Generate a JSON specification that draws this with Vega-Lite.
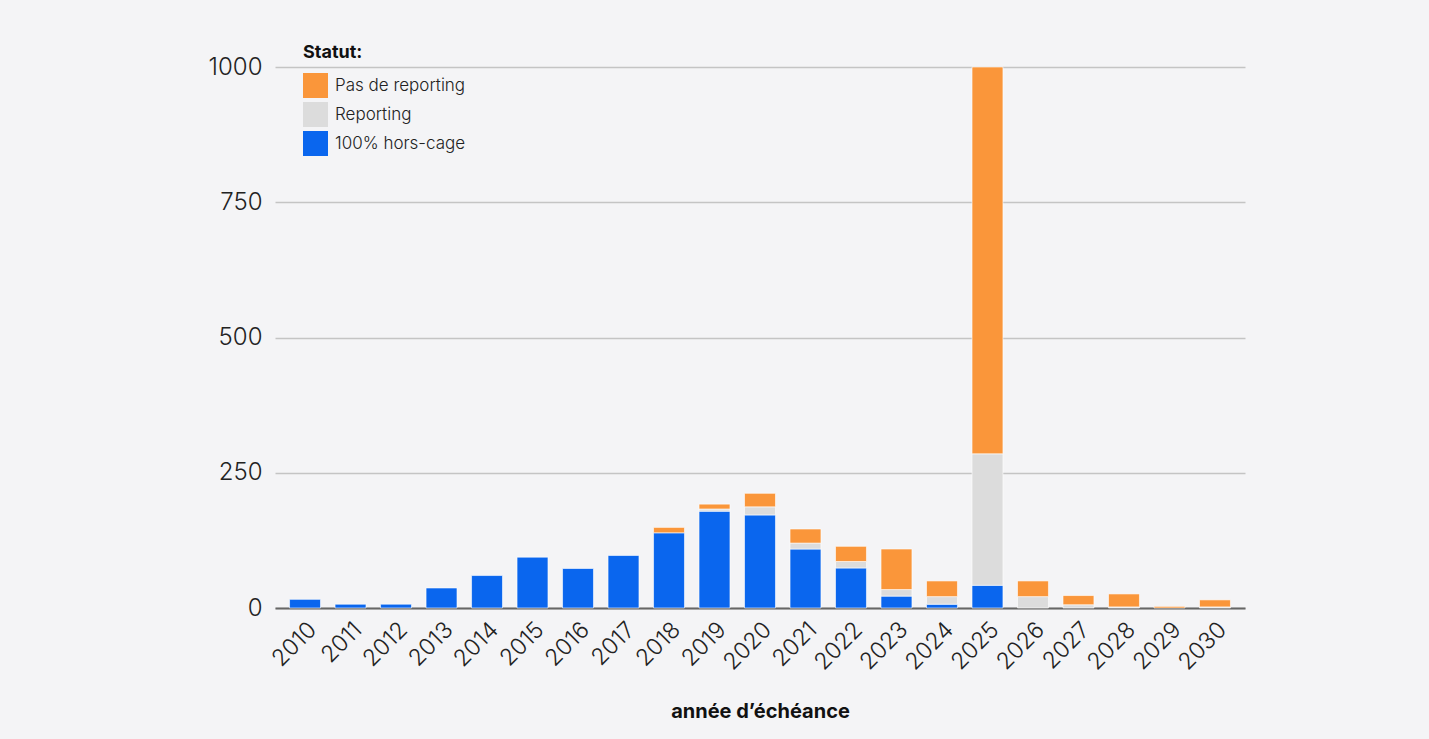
{
  "$schema": "https://vega.github.io/schema/vega-lite/v6.json",
  "autosize": {"type": "none"},
  "width": 970,
  "height": 541,
  "padding": {"left": 275, "top": 67, "right": 184, "bottom": 131},
  "background": "#f4f4f6",
  "config": {
    "font": "Inter",
    "view": {"stroke": null}
  },
  "data": {
    "values": [
      {"annee": "2010", "statut": "100% hors-cage", "n": 16},
      {"annee": "2011", "statut": "100% hors-cage", "n": 7},
      {"annee": "2012", "statut": "100% hors-cage", "n": 7},
      {"annee": "2013", "statut": "100% hors-cage", "n": 37},
      {"annee": "2014", "statut": "100% hors-cage", "n": 60},
      {"annee": "2015", "statut": "100% hors-cage", "n": 94},
      {"annee": "2016", "statut": "100% hors-cage", "n": 73},
      {"annee": "2017", "statut": "100% hors-cage", "n": 97},
      {"annee": "2018", "statut": "100% hors-cage", "n": 139},
      {"annee": "2018", "statut": "Pas de reporting", "n": 10},
      {"annee": "2019", "statut": "100% hors-cage", "n": 179},
      {"annee": "2019", "statut": "Reporting", "n": 4},
      {"annee": "2019", "statut": "Pas de reporting", "n": 9},
      {"annee": "2020", "statut": "100% hors-cage", "n": 172},
      {"annee": "2020", "statut": "Reporting", "n": 15},
      {"annee": "2020", "statut": "Pas de reporting", "n": 25},
      {"annee": "2021", "statut": "100% hors-cage", "n": 109},
      {"annee": "2021", "statut": "Reporting", "n": 11},
      {"annee": "2021", "statut": "Pas de reporting", "n": 26},
      {"annee": "2022", "statut": "100% hors-cage", "n": 74},
      {"annee": "2022", "statut": "Reporting", "n": 12},
      {"annee": "2022", "statut": "Pas de reporting", "n": 28},
      {"annee": "2023", "statut": "100% hors-cage", "n": 22},
      {"annee": "2023", "statut": "Reporting", "n": 12},
      {"annee": "2023", "statut": "Pas de reporting", "n": 75},
      {"annee": "2024", "statut": "100% hors-cage", "n": 7},
      {"annee": "2024", "statut": "Reporting", "n": 14},
      {"annee": "2024", "statut": "Pas de reporting", "n": 29},
      {"annee": "2025", "statut": "100% hors-cage", "n": 42},
      {"annee": "2025", "statut": "Reporting", "n": 243},
      {"annee": "2025", "statut": "Pas de reporting", "n": 715},
      {"annee": "2026", "statut": "Reporting", "n": 21},
      {"annee": "2026", "statut": "Pas de reporting", "n": 29},
      {"annee": "2027", "statut": "Reporting", "n": 6},
      {"annee": "2027", "statut": "Pas de reporting", "n": 17},
      {"annee": "2028", "statut": "Reporting", "n": 2},
      {"annee": "2028", "statut": "Pas de reporting", "n": 24},
      {"annee": "2029", "statut": "Pas de reporting", "n": 3},
      {"annee": "2030", "statut": "Reporting", "n": 2},
      {"annee": "2030", "statut": "Pas de reporting", "n": 13}
    ]
  },
  "transform": [
    {"calculate": "indexof(['100% hors-cage', 'Reporting', 'Pas de reporting'], datum.statut)", "as": "rang"}
  ],
  "mark": {"type": "bar", "stroke": "#ffffff", "strokeOpacity": 0.6, "strokeWidth": 1},
  "encoding": {
    "x": {
      "field": "annee",
      "type": "ordinal",
      "title": "année d’échéance",
      "scale": {"paddingInner": 0.32, "paddingOuter": 0.32},
      "axis": {
        "labelAngle": -45,
        "labelFontSize": 23,
        "labelFontWeight": 300,
        "labelColor": "#222222",
        "labelPadding": 10,
        "ticks": false,
        "domainColor": "#666666",
        "domainWidth": 2,
        "titleFontSize": 20,
        "titleFontWeight": "bold",
        "titleColor": "#111111",
        "titlePadding": 27
      }
    },
    "y": {
      "field": "n",
      "type": "quantitative",
      "stack": "zero",
      "title": null,
      "scale": {"domain": [0, 1000], "nice": false},
      "axis": {
        "values": [0, 250, 500, 750, 1000],
        "format": "d",
        "labelFontSize": 24,
        "labelFontWeight": 300,
        "labelColor": "#222222",
        "labelPadding": 13,
        "ticks": false,
        "domain": false,
        "gridColor": "#c4c4c4",
        "gridWidth": 1.5
      }
    },
    "order": {"field": "rang", "type": "quantitative", "sort": "ascending"},
    "color": {
      "field": "statut",
      "type": "nominal",
      "scale": {
        "domain": ["Pas de reporting", "Reporting", "100% hors-cage"],
        "range": ["#fa963a", "#dcdcdc", "#0a66ee"]
      },
      "legend": {
        "title": "Statut:",
        "orient": "none",
        "legendX": 28,
        "legendY": -23,
        "titleFontSize": 18,
        "titleFontWeight": "bold",
        "titleColor": "#111111",
        "titlePadding": 11,
        "labelFontSize": 17,
        "labelFontWeight": 300,
        "labelColor": "#222222",
        "labelOffset": 7,
        "symbolType": "square",
        "symbolSize": 625,
        "symbolStrokeWidth": 0,
        "rowPadding": 4
      }
    }
  }
}
